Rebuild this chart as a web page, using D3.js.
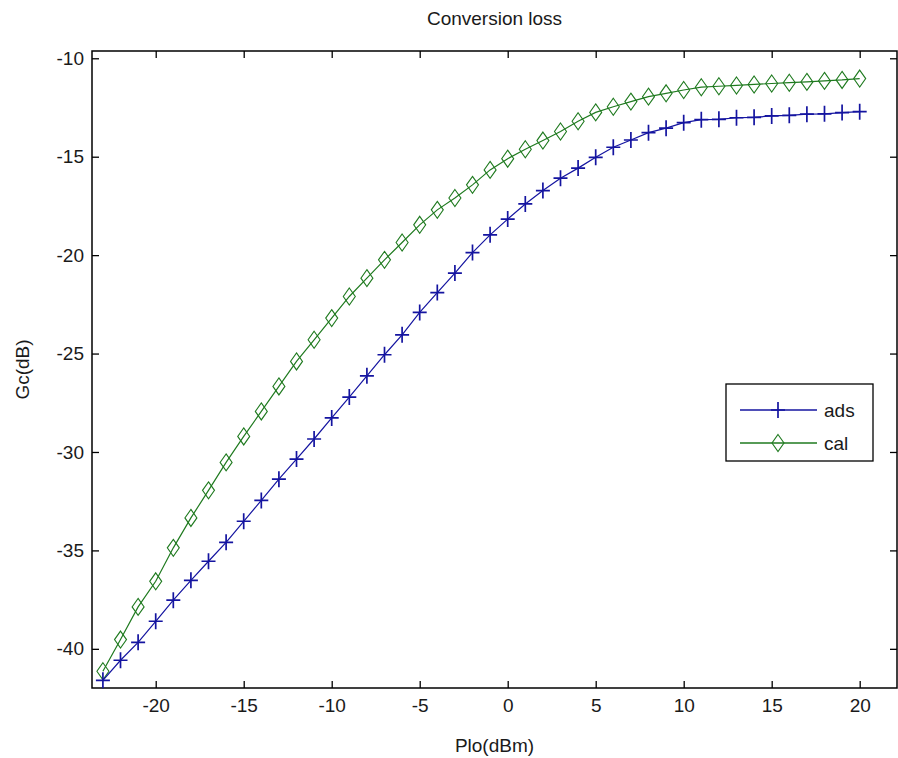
<!DOCTYPE html>
<html>
<head>
<meta charset="utf-8">
<script src="https://cdn.jsdelivr.net/npm/d3@7"></script>
<style>
  html, body { margin: 0; padding: 0; background: #fff; }
  svg { display: block; font-family: "Liberation Sans", Arial, sans-serif; }
</style>
</head>
<body>
<svg id="chart" width="898" height="758"></svg>
<script>
// ---- data ----
const plo = d3.range(-23, 21); // -23 .. 20 dBm
const ads = [-41.6, -40.58, -39.67, -38.6, -37.53, -36.52, -35.55, -34.59, -33.52, -32.46,
             -31.38, -30.36, -29.34, -28.27, -27.21, -26.13, -25.06, -24.05, -22.91, -21.9,
             -20.91, -19.87, -18.97, -18.17, -17.40, -16.72, -16.09, -15.58, -15.03, -14.52,
             -14.15, -13.78, -13.55, -13.27, -13.12, -13.1, -13.02, -13.0, -12.93, -12.9,
             -12.84, -12.82, -12.76, -12.71];
const cal = [-41.14, -39.53, -37.87, -36.57, -34.87, -33.35, -31.95, -30.53, -29.21, -27.94,
             -26.67, -25.4, -24.3, -23.2, -22.1, -21.17, -20.24, -19.36, -18.46, -17.70,
             -17.1, -16.43, -15.67, -15.1, -14.62, -14.18, -13.72, -13.2, -12.75, -12.46,
             -12.2, -11.95, -11.78, -11.61, -11.47, -11.42, -11.38, -11.33, -11.28, -11.24,
             -11.2, -11.15, -11.1, -11.03];
const xTicks = [-20, -15, -10, -5, 0, 5, 10, 15, 20];
const yTicks = [-40, -35, -30, -25, -20, -15, -10];
const seriesNames = ["ads", "cal"];
const title = "Conversion loss";
const xLabel = "Plo(dBm)";
const yLabel = "Gc(dB)";

// ---- layout ----
const L = 92, R = 897, T = 51, B = 688;
const x = d3.scaleLinear().domain([-23.62, 22.12]).range([L, R]);
const y = d3.scaleLinear().domain([-41.99, -9.63]).range([B, T]);

const svg = d3.select("#chart");
const blue = "#1414a0", green = "#1f7a1f";
const textColor = "#1a1a1a";

const tickLen = 7;
const fontSize = 19;
const fmt = d => String(d); // plain hyphen-minus as in the reference

svg.append("rect").attr("x", L).attr("y", T).attr("width", R - L).attr("height", B - T)
  .attr("fill", "#fff").attr("stroke", "none");

const gx = svg.append("g").attr("transform", `translate(0,${B})`)
  .call(d3.axisBottom(x).tickValues(xTicks).tickSizeInner(-tickLen).tickSizeOuter(0).tickPadding(11).tickFormat(fmt));
const gxt = svg.append("g").attr("transform", `translate(0,${T})`)
  .call(d3.axisTop(x).tickValues(xTicks).tickSizeInner(-tickLen).tickSizeOuter(0).tickFormat(""));
const gy = svg.append("g").attr("transform", `translate(${L},0)`)
  .call(d3.axisLeft(y).tickValues(yTicks).tickSizeInner(-tickLen).tickSizeOuter(0).tickPadding(8).tickFormat(fmt));
const gyr = svg.append("g").attr("transform", `translate(${R},0)`)
  .call(d3.axisRight(y).tickValues(yTicks).tickSizeInner(-tickLen).tickSizeOuter(0).tickFormat(""));

[gx, gxt, gy, gyr].forEach(g => {
  g.select(".domain").remove();
  g.selectAll(".tick line").attr("stroke", "#000").attr("stroke-width", 1.3);
  g.selectAll(".tick text").attr("fill", textColor).style("font-size", fontSize + "px")
    .style("font-family", "\"Liberation Sans\", Arial, sans-serif");
});

// frame
svg.append("rect").attr("x", L).attr("y", T).attr("width", R - L).attr("height", B - T)
  .attr("fill", "none").attr("stroke", "#000").attr("stroke-width", 1.5);

// series
const dataAds = plo.map((p, i) => ({ x: p, y: ads[i] }));
const dataCal = plo.map((p, i) => ({ x: p, y: cal[i] }));
const line = d3.line().x(d => x(d.x)).y(d => y(d.y));

function plusPath(cx, cy) {
  const w = 7, h = 8;
  return `M${cx - w},${cy}H${cx + w}M${cx},${cy - h}V${cy + h}`;
}
function diamondPath(cx, cy) {
  const w = 6, h = 8.5;
  return `M${cx},${cy - h}L${cx + w},${cy}L${cx},${cy + h}L${cx - w},${cy}Z`;
}

const plotG = svg.append("g");
plotG.append("path").datum(dataCal).attr("d", line).attr("fill", "none")
  .attr("stroke", green).attr("stroke-width", 1.2);
plotG.append("g").selectAll("path").data(dataCal).join("path")
  .attr("d", d => diamondPath(x(d.x), y(d.y)))
  .attr("fill", "none").attr("stroke", green).attr("stroke-width", 1.1);

plotG.append("path").datum(dataAds).attr("d", line).attr("fill", "none")
  .attr("stroke", blue).attr("stroke-width", 1.2);
plotG.append("g").selectAll("path").data(dataAds).join("path")
  .attr("d", d => plusPath(x(d.x), y(d.y)))
  .attr("fill", "none").attr("stroke", blue).attr("stroke-width", 1.7);

// legend
const lgX = 726, lgY = 384, lgW = 147, lgH = 77;
const lg = svg.append("g");
lg.append("rect").attr("x", lgX).attr("y", lgY).attr("width", lgW).attr("height", lgH)
  .attr("fill", "#fff").attr("stroke", "#000").attr("stroke-width", 1.3);
const legendItems = [
  { name: seriesNames[0], color: blue, marker: plusPath, ly: 410 },
  { name: seriesNames[1], color: green, marker: diamondPath, ly: 443 }
];
legendItems.forEach(it => {
  lg.append("line").attr("x1", 740).attr("x2", 817).attr("y1", it.ly).attr("y2", it.ly)
    .attr("stroke", it.color).attr("stroke-width", 1.3);
  lg.append("path").attr("d", it.marker(778, it.ly)).attr("fill", "none")
    .attr("stroke", it.color).attr("stroke-width", it.marker === plusPath ? 1.7 : 1.1);
  lg.append("text").attr("x", 824).attr("y", it.ly).attr("dy", "0.35em")
    .attr("fill", textColor).style("font-size", fontSize + "px").text(it.name);
});

// title & labels
svg.append("text").attr("x", (L + R) / 2).attr("y", 25).attr("text-anchor", "middle")
  .attr("fill", textColor).style("font-size", fontSize + "px").text(title);
svg.append("text").attr("x", (L + R) / 2).attr("y", 752).attr("text-anchor", "middle")
  .attr("fill", textColor).style("font-size", fontSize + "px").text(xLabel);
svg.append("text").attr("transform", `translate(29,${(T + B) / 2}) rotate(-90)`)
  .attr("text-anchor", "middle").attr("fill", textColor).style("font-size", fontSize + "px").text(yLabel);
</script>
</body>
</html>
